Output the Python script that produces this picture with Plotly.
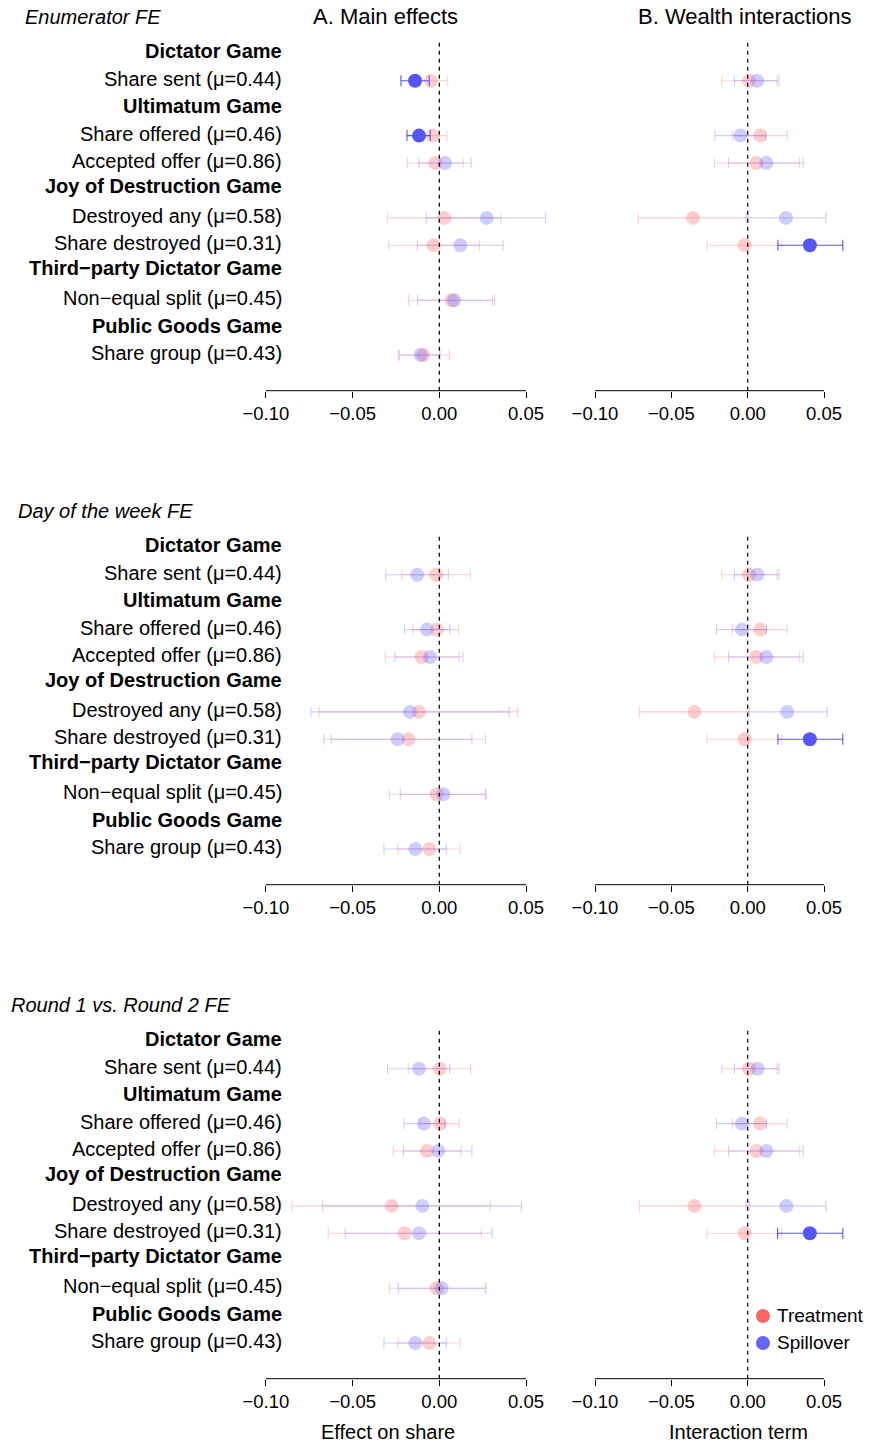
import plotly.graph_objects as go

# ---------------- data ----------------
items = ["Share sent (μ=0.44)", "Share offered (μ=0.46)", "Accepted offer (μ=0.86)",
         "Destroyed any (μ=0.58)", "Share destroyed (μ=0.31)",
         "Non−equal split (μ=0.45)", "Share group (μ=0.43)"]
headers = ["Dictator Game", "Ultimatum Game", "Joy of Destruction Game",
           "Third−party Dictator Game", "Public Goods Game"]
block_titles = ["Enumerator FE", "Day of the week FE", "Round 1 vs. Round 2 FE"]
tick_vals = [-0.10, -0.05, 0.00, 0.05]
tick_text = ["−0.10", "−0.05", "0.00", "0.05"]

# Main effects (A)
enum_main_T = [-0.0048, -0.0037, -0.0023, 0.0029, -0.0033, 0.0071, -0.0092]
enum_main_T_lo = [-0.0144, -0.0118, -0.0184, -0.0298, -0.0292, -0.0177, -0.0238]
enum_main_T_hi = [0.0048, 0.0044, 0.0138, 0.0355, 0.0232, 0.0319, 0.0058]
enum_main_S = [-0.0140, -0.0117, 0.0033, 0.0273, 0.0121, 0.0086, -0.0108]
enum_main_S_lo = [-0.0221, -0.0186, -0.0117, -0.0075, -0.0127, -0.0125, -0.0231]
enum_main_S_hi = [-0.0058, -0.0052, 0.0183, 0.0613, 0.0367, 0.0307, 0.0004]

day_main_T = [-0.0019, -0.0013, -0.0102, -0.0117, -0.0177, -0.0015, -0.0058]
day_main_T_lo = [-0.0215, -0.0152, -0.0311, -0.0692, -0.0622, -0.0288, -0.0238]
day_main_T_hi = [0.0179, 0.0111, 0.0115, 0.0451, 0.0265, 0.0267, 0.0121]
day_main_S = [-0.0127, -0.0071, -0.0054, -0.0169, -0.0240, 0.0023, -0.0138]
day_main_S_lo = [-0.0309, -0.0200, -0.0256, -0.0740, -0.0665, -0.0225, -0.0319]
day_main_S_hi = [0.0052, 0.0061, 0.0136, 0.0402, 0.0188, 0.0269, 0.0040]

round_main_T = [0.0002, 0.0004, -0.0071, -0.0275, -0.0200, -0.0015, -0.0058]
round_main_T_lo = [-0.0179, -0.0111, -0.0265, -0.0849, -0.0640, -0.0288, -0.0238]
round_main_T_hi = [0.0181, 0.0115, 0.0125, 0.0294, 0.0242, 0.0263, 0.0121]
round_main_S = [-0.0117, -0.0088, -0.0006, -0.0098, -0.0117, 0.0013, -0.0138]
round_main_S_lo = [-0.0298, -0.0204, -0.0206, -0.0672, -0.0542, -0.0236, -0.0319]
round_main_S_hi = [0.0060, 0.0031, 0.0188, 0.0473, 0.0305, 0.0271, 0.0040]

# Wealth interactions (B) - no estimates for the last two outcomes
enum_int_T = [0.0009, 0.0081, 0.0057, -0.0357, -0.0020, None, None]
enum_int_T_lo = [-0.0170, -0.0100, -0.0218, -0.0717, -0.0266, None, None]
enum_int_T_hi = [0.0192, 0.0259, 0.0340, 0.0002, 0.0224, None, None]
enum_int_S = [0.0063, -0.0048, 0.0122, 0.0251, 0.0407, None, None]
enum_int_S_lo = [-0.0087, -0.0214, -0.0126, -0.0011, 0.0198, None, None]
enum_int_S_hi = [0.0205, 0.0118, 0.0364, 0.0512, 0.0623, None, None]

day_int_T = [0.0009, 0.0081, 0.0057, -0.0349, -0.0020, None, None]
day_int_T_lo = [-0.0170, -0.0100, -0.0218, -0.0708, -0.0266, None, None]
day_int_T_hi = [0.0192, 0.0259, 0.0340, 0.0011, 0.0224, None, None]
day_int_S = [0.0063, -0.0037, 0.0122, 0.0259, 0.0407, None, None]
day_int_S_lo = [-0.0087, -0.0205, -0.0126, -0.0002, 0.0198, None, None]
day_int_S_hi = [0.0205, 0.0122, 0.0364, 0.0521, 0.0623, None, None]

round_int_T = [0.0009, 0.0081, 0.0057, -0.0349, -0.0020, None, None]
round_int_T_lo = [-0.0170, -0.0100, -0.0218, -0.0708, -0.0266, None, None]
round_int_T_hi = [0.0192, 0.0259, 0.0340, 0.0011, 0.0224, None, None]
round_int_S = [0.0065, -0.0037, 0.0122, 0.0253, 0.0407, None, None]
round_int_S_lo = [-0.0087, -0.0205, -0.0126, -0.0011, 0.0196, None, None]
round_int_S_hi = [0.0205, 0.0122, 0.0364, 0.0512, 0.0623, None, None]

panels = [
    [((enum_main_T, enum_main_T_lo, enum_main_T_hi), (enum_main_S, enum_main_S_lo, enum_main_S_hi)),
     ((enum_int_T, enum_int_T_lo, enum_int_T_hi), (enum_int_S, enum_int_S_lo, enum_int_S_hi))],
    [((day_main_T, day_main_T_lo, day_main_T_hi), (day_main_S, day_main_S_lo, day_main_S_hi)),
     ((day_int_T, day_int_T_lo, day_int_T_hi), (day_int_S, day_int_S_lo, day_int_S_hi))],
    [((round_main_T, round_main_T_lo, round_main_T_hi), (round_main_S, round_main_S_lo, round_main_S_hi)),
     ((round_int_T, round_int_T_lo, round_int_T_hi), (round_int_S, round_int_S_lo, round_int_S_hi))],
]

# ---------------- layout helpers ----------------
W, H = 869, 1443
FONT = "Liberation Sans, Arial, Helvetica, sans-serif"
item_rows = [0, 2, 3, 5, 6, 8, 10]
header_rows = [-1, 1, 3.9, 6.9, 9]
BLOCK = 494
TOP0, BOT0 = 39.3, 390.7
ROW_BOTTOM, ROW_TOP = 11.30, -1.51
X_RANGE = [-0.11, 0.07]
x_dom_px = [(248.45, 560.75), (579.73, 854.59)]

RED = (255, 100, 100)
BLUE = (100, 100, 255)
BLUE_SIG = (85, 85, 250)
ALPHA = 0.32


def rgba(c, a):
    return "rgba(%d,%d,%d,%.2f)" % (c[0], c[1], c[2], a)


def px(x):
    return x / W


def py(y):
    return 1 - y / H


fig = go.Figure()
layout = dict(width=W, height=H,
              margin=dict(l=0, r=0, t=0, b=0, pad=0, autoexpand=False),
              paper_bgcolor="white", plot_bgcolor="white", showlegend=False,
              font=dict(family=FONT, color="black"))
shapes = []
annotations = []

for b in range(3):
    top = TOP0 + b * BLOCK
    bot = BOT0 + b * BLOCK
    for c in range(2):
        k = 2 * b + c + 1
        xs = "" if k == 1 else str(k)
        layout["xaxis" + xs] = dict(
            domain=[px(x_dom_px[c][0]), px(x_dom_px[c][1])], range=X_RANGE,
            anchor="y" + xs, showgrid=False, zeroline=False, showline=False,
            tickmode="array", tickvals=tick_vals, ticktext=tick_text,
            ticks="outside", ticklen=6, tickwidth=1, tickcolor="black",
            tickfont=dict(size=18.5, family=FONT, color="black"),
            automargin=False, fixedrange=True)
        layout["yaxis" + xs] = dict(
            domain=[py(bot), py(top)], range=[ROW_BOTTOM, ROW_TOP],
            anchor="x" + xs, showgrid=False, zeroline=False, showline=False,
            showticklabels=False, ticks="", automargin=False, fixedrange=True)
        # axis line from -0.10 to 0.05
        shapes.append(dict(type="line", xref="x" + xs, yref="y" + xs + " domain",
                           x0=tick_vals[0], x1=tick_vals[-1], y0=0, y1=0,
                           line=dict(color="black", width=1)))
        # dashed zero line
        shapes.append(dict(type="line", xref="x" + xs, yref="y" + xs + " domain",
                           x0=0, x1=0, y0=0, y1=1,
                           line=dict(color="black", width=1.2, dash="4px,4px")))
        for s, (est, lo, hi) in enumerate(panels[b][c]):
            base = RED if s == 0 else BLUE
            for i in range(len(items)):
                if est[i] is None:
                    continue
                sig = lo[i] > 0 or hi[i] < 0
                if sig:
                    col = rgba(BLUE_SIG if s == 1 else RED, 1.0)
                else:
                    col = rgba(base, ALPHA)
                fig.add_trace(go.Scatter(
                    x=[est[i]], y=[item_rows[i]], mode="markers",
                    xaxis="x" + xs, yaxis="y" + xs,
                    marker=dict(size=14, color=col, line=dict(width=0)),
                    error_x=dict(type="data", symmetric=False,
                                 array=[hi[i] - est[i]], arrayminus=[est[i] - lo[i]],
                                 color=col, thickness=1.1, width=5.5),
                    hoverinfo="skip"))
    # row labels
    yref = "y" if b == 0 else "y" + str(2 * b + 1)
    for i, name in enumerate(items):
        annotations.append(dict(text=name, xref="paper", yref=yref, x=px(284),
                                y=item_rows[i] - 0.07, xanchor="right", yanchor="middle",
                                showarrow=False, font=dict(size=20, family=FONT)))
    for j, name in enumerate(headers):
        annotations.append(dict(text="<b>" + name + "</b>", xref="paper", yref=yref,
                                x=px(284), y=header_rows[j] - 0.07, xanchor="right",
                                yanchor="middle", showarrow=False,
                                font=dict(size=20, family=FONT)))
    # block title
    title_x = [23, 16, 9][b]
    annotations.append(dict(text="<i>" + block_titles[b] + "</i>", xref="paper", yref="paper",
                            x=px(title_x), y=py(17 + b * BLOCK), xanchor="left",
                            yanchor="middle", showarrow=False, font=dict(size=20, family=FONT)))

# column headers
annotations.append(dict(text="A. Main effects", xref="paper", yref="paper", x=px(385),
                        y=py(17), xanchor="center", yanchor="middle", showarrow=False,
                        font=dict(size=22, family=FONT)))
annotations.append(dict(text="B. Wealth interactions", xref="paper", yref="paper",
                        x=px(744.5), y=py(17), xanchor="center", yanchor="middle",
                        showarrow=False, font=dict(size=22, family=FONT)))
# x labels
annotations.append(dict(text="Effect on share", xref="paper", yref="paper", x=px(388),
                        y=py(1432), xanchor="center", yanchor="middle", showarrow=False,
                        font=dict(size=20, family=FONT)))
annotations.append(dict(text="Interaction term", xref="paper", yref="paper", x=px(738.5),
                        y=py(1432), xanchor="center", yanchor="middle", showarrow=False,
                        font=dict(size=20, family=FONT)))
# legend
for lab, colr, ly in [("Treatment", RED, 1316), ("Spillover", BLUE, 1343)]:
    shapes.append(dict(type="circle", xref="paper", yref="paper",
                       xsizemode="pixel", ysizemode="pixel",
                       xanchor=px(763), yanchor=py(ly), x0=-7, x1=7, y0=-7, y1=7,
                       fillcolor=rgba(colr, 1.0), line=dict(width=0)))
    annotations.append(dict(text=lab, xref="paper", yref="paper", x=px(775), y=py(ly - 1),
                            xanchor="left", yanchor="middle", showarrow=False,
                            font=dict(size=19, family=FONT)))

layout["shapes"] = shapes
layout["annotations"] = annotations
fig.update_layout(**layout)
fig.write_html("out.html", config={"displayModeBar": False},
               post_script="document.body.style.margin='0px';document.body.style.padding='0px';")
